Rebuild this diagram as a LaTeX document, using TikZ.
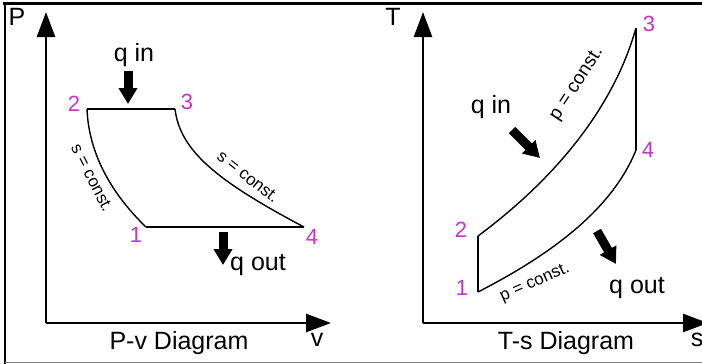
\documentclass[tikz,border=0pt]{standalone}
\usepackage{fontspec}
\setmainfont{Liberation Sans}
\usetikzlibrary{arrows.meta}
\definecolor{ptmag}{RGB}{200,50,200}
\tikzset{
  every node/.style={inner sep=0pt, outer sep=0pt},
  axisline/.style={line width=2.6pt, -{Triangle[width=18pt,length=25pt]}},
  cycleline/.style={line width=1.4pt, line join=round},
  heatarrow/.style={line width=9pt, -{Triangle[width=18pt,length=16pt]}},
  ptlabel/.style={text=ptmag, font=\fontsize{22}{24}\selectfont},
  biglabel/.style={font=\fontsize{25}{28}\selectfont},
  constlabel/.style={font=\fontsize{17}{19}\selectfont},
}
\begin{document}
\begin{tikzpicture}[x=1pt,y=-1pt]
\useasboundingbox (0,0) rectangle (702,364);
\clip (0,0) rectangle (702,364);
% frame
\draw[line width=3pt] (3,3) -- (702,3);
\draw[line width=2.5pt] (5,3) -- (5,364);
\draw[line width=1.5pt, gray] (5,362.5) -- (702,362.5);

% ---------- P-v diagram ----------
\coordinate (Lo) at (46,323);
\coordinate (Ly) at (46,12);
\coordinate (Lx) at (331,323);
\draw[axisline] (Lo) -- (Ly);
\draw[axisline] (Lo) -- (Lx);
\node[biglabel] (Plab) at (17,17) {P};
\node[biglabel] (vlab) at (317,340) {v};
\node[biglabel] (pvtitle) at (179,343) {P-v Diagram};

\coordinate (A2) at (87,109);
\coordinate (A3) at (175,109);
\coordinate (A1) at (146,227);
\coordinate (A4) at (304,227);
\draw[cycleline] (A2) -- (A3);
\draw[cycleline] (A1) -- (A4);
\draw[cycleline] (A2) .. controls (89,160) and (118,200) .. (A1);
\draw[cycleline] (A3) .. controls (180,150) and (215,180) .. (A4);
\node[ptlabel] (n2a) at (74,104) {2};
\node[ptlabel] (n3a) at (187,102) {3};
\node[ptlabel] (n1a) at (136,235) {1};
\node[ptlabel] (n4a) at (312,237) {4};
\node[constlabel, rotate=-63] (sca) at (92,178) {s = const.};
\node[constlabel, rotate=-38] (scb) at (248,177) {s = const.};

\node[biglabel] (qina) at (134,55) {q in};
\coordinate (qa1) at (128,71);
\coordinate (qa2) at (128,104);
\draw[heatarrow] (qa1) -- (qa2);
\node[biglabel] (qouta) at (258,265) {q out};
\coordinate (qb1) at (223,232);
\coordinate (qb2) at (223,265);
\draw[heatarrow] (qb1) -- (qb2);

% ---------- T-s diagram ----------
\coordinate (Ro) at (423,323);
\coordinate (Ry) at (423,12);
\coordinate (Rx) at (708,323);
\draw[axisline] (Ro) -- (Ry);
\draw[axisline] (Ro) -- (Rx);
\node[biglabel] (Tlab) at (393,17) {T};
\node[biglabel] (slab) at (697,340) {s};
\node[biglabel] (tstitle) at (566,343) {T-s Diagram};

\coordinate (B1) at (478,292);
\coordinate (B2) at (478,236);
\coordinate (B3) at (636,28);
\coordinate (B4) at (636,150);
\draw[cycleline] (B1) -- (B2);
\draw[cycleline] (B3) -- (B4);
\draw[cycleline] (B2) .. controls (540,190) and (610,120) .. (B3);
\draw[cycleline] (B1) .. controls (540,260) and (610,215) .. (B4);
\node[ptlabel] (n1b) at (462,288) {1};
\node[ptlabel] (n2b) at (461,230) {2};
\node[ptlabel] (n3b) at (649,24) {3};
\node[ptlabel] (n4b) at (648,150) {4};
\node[constlabel, font=\fontsize{19}{21}\selectfont, rotate=57] (pca) at (577,84) {p = const.};
\node[constlabel, rotate=24] (pcb) at (535,283) {p = const.};

\node[biglabel] (qinb) at (491,107) {q in};
\coordinate (qc1) at (512,130);
\coordinate (qc2) at (540,158);
\draw[heatarrow] (qc1) -- (qc2);
\node[biglabel] (qoutb) at (637,288) {q out};
\coordinate (qd1) at (597,231);
\coordinate (qd2) at (616,264);
\draw[heatarrow] (qd1) -- (qd2);
\end{tikzpicture}
\end{document}
